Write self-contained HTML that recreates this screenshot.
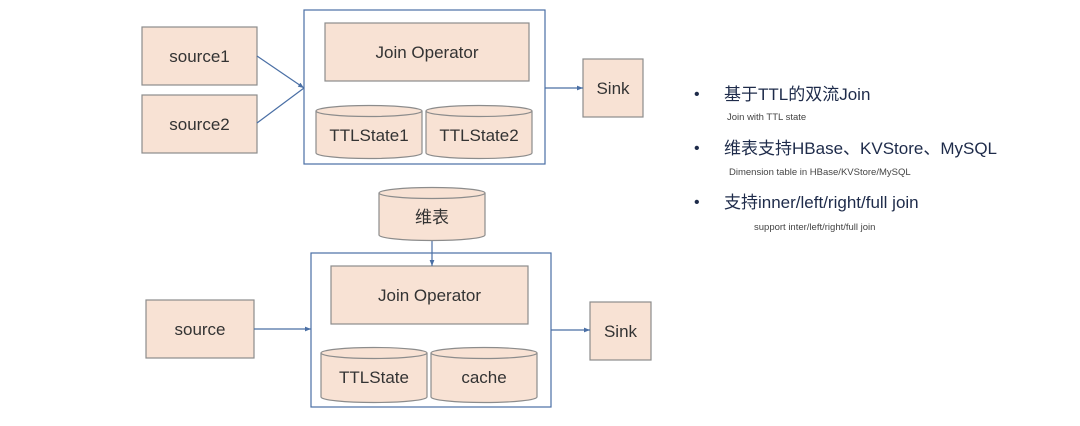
<!DOCTYPE html>
<html><head><meta charset="utf-8"><style>
html,body{margin:0;padding:0;background:#fff;width:1080px;height:426px;overflow:hidden}
svg text{font-family:"Liberation Sans","Noto Sans CJK SC",sans-serif}
</style></head><body>
<svg width="1080" height="426" viewBox="0 0 1080 426" xmlns="http://www.w3.org/2000/svg">
<defs><marker id="a" markerWidth="6" markerHeight="6" refX="5" refY="3" orient="auto"><path d="M0,1 L5,3 L0,5z" fill="#4a6fa5"/></marker></defs>
<g fill="#f8e2d4" stroke="#8c8c8c" stroke-width="1.2">
<rect x="142" y="27" width="115" height="58"/>
<rect x="142" y="95" width="115" height="58"/>
<rect x="325" y="23" width="204" height="58"/>
<rect x="583" y="59" width="60" height="58"/>
<rect x="146" y="300" width="108" height="58"/>
<rect x="331" y="266" width="197" height="58"/>
<rect x="590" y="302" width="61" height="58"/>
</g>
<g fill="none" stroke="#4a6fa5" stroke-width="1.2">
<rect x="304" y="10" width="241" height="154"/>
<rect x="311" y="253" width="240" height="154"/>
<line x1="257" y1="56" x2="304" y2="88" marker-end="url(#a)"/>
<line x1="257" y1="123" x2="304" y2="88"/>
<line x1="545" y1="88" x2="583" y2="88" marker-end="url(#a)"/>
<line x1="432" y1="240" x2="432" y2="266" marker-end="url(#a)"/>
<line x1="254" y1="329" x2="311" y2="329" marker-end="url(#a)"/>
<line x1="551" y1="330" x2="590" y2="330" marker-end="url(#a)"/>
</g>
<g fill="#f8e2d4" stroke="#8c8c8c" stroke-width="1.2">
<path d="M316,111 v42 a53,5.5 0 0 0 106,0 v-42"/><ellipse cx="369" cy="111" rx="53" ry="5.5"/>
<path d="M426,111 v42 a53,5.5 0 0 0 106,0 v-42"/><ellipse cx="479" cy="111" rx="53" ry="5.5"/>
<path d="M379,193 v42 a53,5.5 0 0 0 106,0 v-42"/><ellipse cx="432" cy="193" rx="53" ry="5.5"/>
<path d="M321,353 v44 a53,5.5 0 0 0 106,0 v-44"/><ellipse cx="374" cy="353" rx="53" ry="5.5"/>
<path d="M431,353 v44 a53,5.5 0 0 0 106,0 v-44"/><ellipse cx="484" cy="353" rx="53" ry="5.5"/>
</g>
<g fill="#333" font-size="17" text-anchor="middle">
<text x="199.5" y="62">source1</text>
<text x="199.5" y="130">source2</text>
<text x="427" y="58">Join Operator</text>
<text x="613" y="94">Sink</text>
<text x="369" y="141">TTLState1</text>
<text x="479" y="141">TTLState2</text>
<text x="432" y="223">维表</text>
<text x="429.5" y="301">Join Operator</text>
<text x="200" y="335">source</text>
<text x="620.5" y="337">Sink</text>
<text x="374" y="383">TTLState</text>
<text x="484" y="383">cache</text>
</g>
<g fill="#1e2b4a">
<text x="694" y="99" font-size="16">•</text>
<text x="724" y="100" font-size="17">基于TTL的双流Join</text>
<text x="727" y="120" font-size="9.5" fill="#444">Join with TTL state</text>
<text x="694" y="153" font-size="16">•</text>
<text x="724" y="154" font-size="17">维表支持HBase、KVStore、MySQL</text>
<text x="729" y="175" font-size="9.5" fill="#444">Dimension table in HBase/KVStore/MySQL</text>
<text x="694" y="207" font-size="16">•</text>
<text x="724" y="208" font-size="17">支持inner/left/right/full join</text>
<text x="754" y="230" font-size="9.5" fill="#444">support inter/left/right/full join</text>
</g>
</svg>
</body></html>
